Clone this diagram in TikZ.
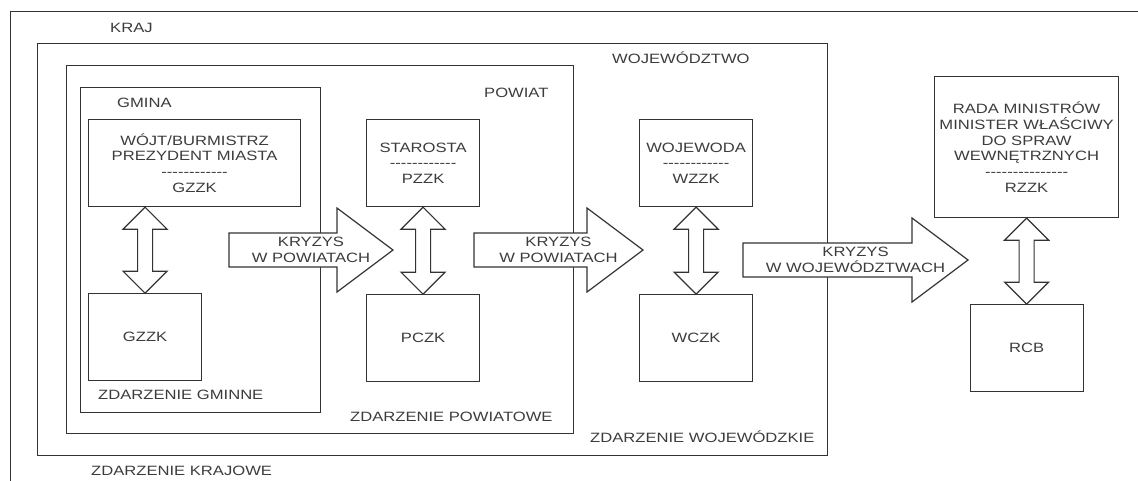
\documentclass[tikz,border=0pt]{standalone}
\usepackage{fontspec}
\setmainfont{Liberation Sans}[Ligatures=TeXOff, FakeStretch=1.23]
\usepackage{tikz}
\usetikzlibrary{calc, positioning}
\definecolor{linegray}{RGB}{51,51,51}
\definecolor{textgray}{RGB}{60,60,60}
\newcommand{\diafont}{\fontsize{13.5pt}{15.8pt}\selectfont}
\tikzstyle{frame} = [rectangle, draw=linegray, line width=1.2pt, anchor=north west, inner sep=0pt]
\tikzstyle{box} = [rectangle, draw=linegray, line width=1.2pt, fill=white, text=textgray, font=\diafont, align=center, inner sep=2pt, minimum width=113pt, minimum height=87pt]
\tikzstyle{framelabel} = [text=textgray, font=\diafont, inner sep=0pt, anchor=base west]
\tikzstyle{bigarrow} = [draw=linegray, line width=1.2pt, fill=white, line join=miter]
\newcommand{\dwa}[2]{\draw[bigarrow] (#1) -- ++(22,22) -- ++(-14.5,0) -- ($(#2)+(7.5,-22)$) -- ++(14.5,0) -- (#2) -- ++(-22,-22) -- ++(14.5,0) -- ($(#1)+(-7.5,22)$) -- ++(-14.5,0) -- cycle;}
\newcommand{\kryzys}[4]{\draw[bigarrow] ($(#1)+(0,-17)$) -- ($(#2)+(-56,-17)$) -- ($(#2)+(-56,-42)$) -- (#2) -- ($(#2)+(-56,42)$) -- ($(#2)+(-56,17)$) -- ($(#1)+(0,17)$) -- cycle;
\node (#3) [text=textgray, font=\diafont, align=center, inner sep=0pt] at ($(#1)!0.5!(#2)$) {#4};}

\begin{document}
\begin{tikzpicture}[x=1pt, y=-1pt]
\useasboundingbox (0,0) rectangle (1138,480);
\clip (0,0) rectangle (1138,480);

\node (kraj) [frame, minimum width=1160pt, minimum height=500pt] at (9.5,11) {};
\node (wojewodztwo) [frame, minimum width=790pt, minimum height=412pt] at (37,43) {};
\node (powiat) [frame, minimum width=507pt, minimum height=368pt] at (66,65) {};
\node (gmina) [frame, minimum width=240pt, minimum height=325pt] at (80,87) {};

\node (tkraj) [framelabel] at (110,32) {KRAJ};
\node (twoj) [framelabel] at (612,63) {WOJEWÓDZTWO};
\node (tpow) [framelabel] at (484,97) {POWIAT};
\node (tgmina) [framelabel] at (117,107) {GMINA};
\node (zgmina) [framelabel] at (98,399) {ZDARZENIE GMINNE};
\node (zpow) [framelabel] at (350,421) {ZDARZENIE POWIATOWE};
\node (zwoj) [framelabel] at (590,442) {ZDARZENIE WOJEWÓDZKIE};
\node (zkraj) [framelabel] at (91,475) {ZDARZENIE KRAJOWE};

\node (wojt) [box, minimum width=212pt, anchor=north west] at (88,119) {WÓJT/BURMISTRZ\\PREZYDENT MIASTA\\------------\\GZZK};
\node (gzzk) [box, below=86pt of wojt.south west, anchor=north west] {GZZK};
\node (starosta) [box, anchor=north west] at (366,119) {STAROSTA\\------------\\PZZK};
\node (pczk) [box, below=87pt of starosta] {PCZK};
\node (wojewoda) [box, anchor=north west] at (639,119) {WOJEWODA\\------------\\WZZK};
\node (wczk) [box, below=87pt of wojewoda] {WCZK};
\node (rada) [box, minimum width=184pt, minimum height=141pt, anchor=north west] at (934,76) {RADA MINISTRÓW\\MINISTER WŁAŚCIWY\\DO SPRAW\\WEWNĘTRZNYCH\\---------------\\RZZK};
\node (rcb) [box, below=86pt of rada] {RCB};

\coordinate (g1) at (gzzk.north |- wojt.south);
\dwa{g1}{gzzk.north}
\dwa{starosta.south}{pczk.north}
\dwa{wojewoda.south}{wczk.north}
\dwa{rada.south}{rcb.north}

\coordinate (k1s) at (229,250);
\coordinate (k1e) at (393,250);
\coordinate (k2s) at (474,250);
\coordinate (k2e) at (643,250);
\coordinate (k3s) at (743,260);
\coordinate (k3e) at (968,260);
\kryzys{k1s}{k1e}{kpow1}{KRYZYS\\W POWIATACH}
\kryzys{k2s}{k2e}{kpow2}{KRYZYS\\W POWIATACH}
\kryzys{k3s}{k3e}{kwoj}{KRYZYS\\W WOJEWÓDZTWACH}

\end{tikzpicture}
\end{document}
